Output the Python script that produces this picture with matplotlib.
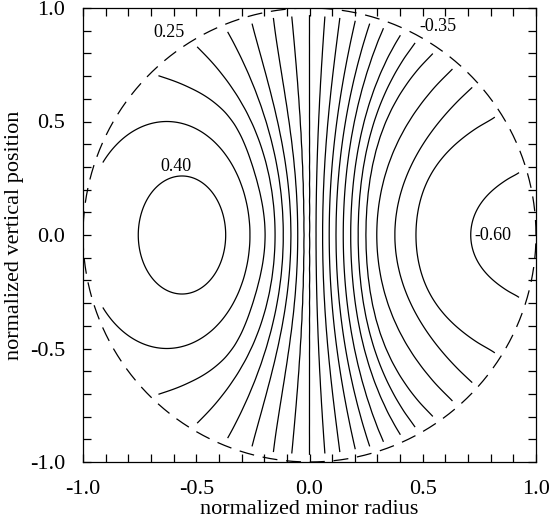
import numpy as np
import matplotlib
matplotlib.use("Agg")
import matplotlib.pyplot as plt
from matplotlib.ticker import MultipleLocator, FormatStrFormatter

plt.rcParams['font.family'] = ['Liberation Serif', 'DejaVu Serif']
plt.rcParams['axes.unicode_minus'] = False

# contour levels drawn
levels = [0.40, 0.35, 0.30, 0.25, 0.20, 0.15, 0.10, 0.05, 0.00, -0.05, -0.10,
          -0.15, -0.20, -0.25, -0.30, -0.35, -0.40, -0.45, -0.50, -0.55, -0.60]

# open contours: crossing of the midplane (y = 0)
open_level = [0.30, 0.25, 0.20, 0.15, 0.10, 0.05, 0.00, -0.05, -0.10, -0.15,
              -0.20, -0.25, -0.30, -0.35, -0.40, -0.45, -0.50, -0.55, -0.60]
mid_x = [-0.200, -0.152, -0.116, -0.082, -0.052, -0.024, 0.000, 0.029, 0.058,
         0.087, 0.117, 0.149, 0.182, 0.215, 0.249, 0.297, 0.377, 0.470, 0.709]

# open contours: crossing of the row y = 0.494 (None where the line ends lower)
row_y = 0.494
row_x = [-0.351, -0.255, -0.190, -0.140, -0.090, -0.040, 0.000, 0.040, 0.081,
         0.120, 0.158, 0.197, 0.240, 0.284, 0.335, 0.436, 0.569, 0.775, None]

# open contours: where each line meets the edge of the data (upper half)
end_x = [-0.675, -0.498, -0.377, -0.263, -0.162, -0.079, 0.000, 0.068, 0.135,
         0.205, 0.267, 0.333, 0.403, 0.466, 0.547, 0.628, 0.716, 0.812, 0.922]
end_y = [0.702, 0.831, 0.923, 0.965, 0.975, 0.970, 0.970, 0.964, 0.964, 0.957,
         0.935, 0.927, 0.883, 0.846, 0.802, 0.728, 0.648, 0.515, 0.272]

# further points (upper half)
extra_level = [0.30, 0.30, -0.60, -0.60]
extra_x = [-0.528, -0.248, 0.753, 0.820]
extra_y = [0.655, 0.331, 0.125, 0.210]

# closed / turning contours on the left (read centre and half-widths)
loop_level = [0.40, 0.35]
loop_cx = [-0.563, -0.630]
loop_ax = [0.193, 0.367]
loop_ay = [0.260, 0.500]

# peak value and values just outside the outermost lines
spot_level = [0.425, -0.615, -0.612]
spot_x = [-0.563, 0.965, 0.900]
spot_y = [0.000, 0.000, 0.150]

# contour labels
lab_text = ["0.25", "0.40", "-0.35", "-0.60"]
lab_x = [-0.620, -0.589, 0.565, 0.808]
lab_y = [0.892, 0.300, 0.918, -0.004]

# ---- sample points along each read contour ----
sx, sy, sv = [], [], []
for k, lev in enumerate(open_level):
    ys, xs = [0.0], [mid_x[k]]
    if row_x[k] is not None:
        ys.append(row_y); xs.append(row_x[k])
    ys.append(end_y[k]); xs.append(end_x[k])
    for el, ex, ey in zip(extra_level, extra_x, extra_y):
        if el == lev:
            ys.append(ey); xs.append(ex)
    s = np.array(ys) ** 2
    deg = 3 if len(ys) >= 5 else 2
    V = np.vander(s, deg + 1, increasing=True)
    c = np.linalg.lstsq(V, np.array(xs), rcond=None)[0]
    yy = np.linspace(0, end_y[k], 14)
    xx = np.vander(yy ** 2, deg + 1, increasing=True) @ c
    sx += list(xx); sy += list(yy); sv += [lev] * len(yy)
for lev, cx, axx, ayy in zip(loop_level, loop_cx, loop_ax, loop_ay):
    th = np.linspace(0, np.pi, 25)
    xx = cx + axx * np.cos(th)
    yy = ayy * np.sin(th)
    keep = np.hypot(xx, yy) < 0.99
    sx += list(xx[keep]); sy += list(yy[keep]); sv += [lev] * int(keep.sum())
sx += spot_x; sy += spot_y; sv += spot_level

px = np.array(sx); py = np.array(sy); pv = np.array(sv)
up = py > 1e-9
px = np.concatenate([px, px[up]])
py = np.concatenate([py, -py[up]])
pv = np.concatenate([pv, pv[up]])

# ---- thin-plate spline field through the samples ----
def phi(r):
    with np.errstate(divide='ignore', invalid='ignore'):
        out = r * r * np.log(r)
    return np.where(r > 0, out, 0.0)


n = len(px)
K = phi(np.hypot(px[:, None] - px[None, :], py[:, None] - py[None, :]))
P = np.column_stack([np.ones(n), px, py])
A = np.zeros((n + 3, n + 3))
A[:n, :n] = K + 1e-5 * np.eye(n)
A[:n, n:] = P
A[n:, :n] = P.T
sol = np.linalg.solve(A, np.concatenate([pv, np.zeros(3)]))
w, a = sol[:n], sol[n:]

g = np.linspace(-1, 1, 321)
X, Y = np.meshgrid(g, g)
Z = a[0] + a[1] * X + a[2] * Y
for i in range(n):
    Z += w[i] * phi(np.hypot(X - px[i], Y - py[i]))
Z = np.ma.masked_where(np.hypot(X, Y) > 0.97, Z)

# ---- figure ----
fig = plt.figure(figsize=(5.51, 5.21), dpi=100)
ax = fig.add_axes([83 / 551, 59 / 521, 453 / 551, 454 / 521])
ax.contour(X, Y, Z, levels=sorted(levels), colors='black', linewidths=0.9,
           linestyles='solid')
t = np.linspace(0, 2 * np.pi, 721)
ax.plot(np.cos(t), np.sin(t), color='black', lw=0.9, dashes=(12, 7))
for s_, x_, y_ in zip(lab_text, lab_x, lab_y):
    ax.text(x_, y_, s_, ha='center', va='center', fontsize=13)

ax.set_xlim(-1, 1)
ax.set_ylim(-1, 1)
ax.xaxis.set_major_locator(MultipleLocator(0.5))
ax.yaxis.set_major_locator(MultipleLocator(0.5))
ax.xaxis.set_minor_locator(MultipleLocator(0.1))
ax.yaxis.set_minor_locator(MultipleLocator(0.1))
ax.xaxis.set_major_formatter(FormatStrFormatter('%.1f'))
ax.yaxis.set_major_formatter(FormatStrFormatter('%.1f'))
ax.tick_params(which='both', direction='in', top=True, right=True,
               length=6, width=0.9, labelsize=16)
ax.tick_params(axis='x', which='both', pad=13)
ax.tick_params(axis='y', which='both', pad=13)
for sp in ax.spines.values():
    sp.set_linewidth(0.9)
ax.set_xlabel('normalized minor radius', fontsize=16, labelpad=1)
ax.set_ylabel('normalized vertical position', fontsize=16, labelpad=4)

fig.savefig('out.png', dpi=100)
